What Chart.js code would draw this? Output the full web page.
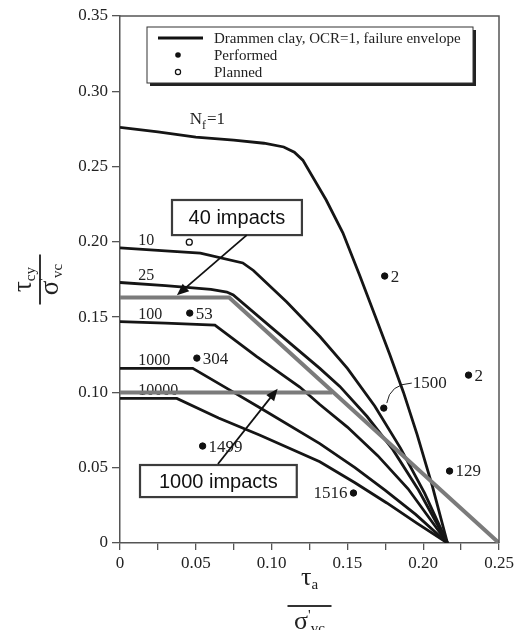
<!DOCTYPE html>
<html>
<head>
<meta charset="utf-8">
<script src="https://cdn.jsdelivr.net/npm/chart.js@4.4.0/dist/chart.umd.min.js"></script>
<style>
  html, body { margin: 0; padding: 0; background: #fff; }
  #wrap { width: 521px; height: 630px; }
</style>
</head>
<body>
<div id="wrap"><canvas id="contourChart" width="521" height="630"></canvas></div>
<script>
// Failure contours (tau_a / sigma'vc vs tau_cy / sigma'vc), Drammen clay OCR=1
const nf1Ta = [0, 0.025, 0.05, 0.075, 0.095, 0.108, 0.115, 0.1206, 0.136, 0.147, 0.158, 0.169, 0.178, 0.187, 0.196, 0.206, 0.216];
const nf1Tcy = [0.276, 0.273, 0.2695, 0.2675, 0.2655, 0.263, 0.2595, 0.2543, 0.2278, 0.206, 0.178, 0.149, 0.125, 0.1, 0.072, 0.038, 0];

const nf10Ta = [0, 0.03, 0.053, 0.081, 0.088, 0.11, 0.132, 0.15, 0.168, 0.185, 0.201, 0.216];
const nf10Tcy = [0.196, 0.194, 0.1925, 0.186, 0.181, 0.16, 0.137, 0.116, 0.091, 0.063, 0.033, 0];

const nf25Ta = [0, 0.03, 0.06, 0.0705, 0.0747, 0.1, 0.1318, 0.145, 0.163, 0.18, 0.197, 0.216];
const nf25Tcy = [0.173, 0.171, 0.1685, 0.1667, 0.1647, 0.143, 0.116, 0.104, 0.084, 0.062, 0.035, 0];

const nf100Ta = [0, 0.03, 0.0626, 0.09, 0.1186, 0.1318, 0.15, 0.17, 0.19, 0.216];
const nf100Tcy = [0.147, 0.146, 0.1447, 0.124, 0.1036, 0.092, 0.077, 0.058, 0.036, 0];

const nf1000Ta = [0, 0.048, 0.07, 0.092, 0.1318, 0.155, 0.175, 0.195, 0.216];
const nf1000Tcy = [0.116, 0.116, 0.103, 0.09, 0.066, 0.05, 0.035, 0.019, 0];

const nf10000Ta = [0, 0.0375, 0.065, 0.092, 0.1318, 0.155, 0.176, 0.196, 0.216];
const nf10000Tcy = [0.096, 0.096, 0.083, 0.0717, 0.054, 0.04, 0.0266, 0.013, 0];

// design lines for impact loading
const imp40Ta = [0, 0.072, 0.25];
const imp40Tcy = [0.163, 0.163, 0];
const imp1000Ta = [0, 0.14];
const imp1000Tcy = [0.1, 0.1];

// tests
const performedTa = [0.046, 0.0507, 0.0545, 0.1746, 0.2299, 0.2174, 0.154, 0.174];
const performedTcy = [0.1527, 0.1228, 0.0644, 0.1773, 0.1115, 0.0478, 0.0332, 0.0896];
const performedTags = ["53", "304", "1499", "2", "2", "129", "1516", "1500"];
const plannedTa = [0.0457];
const plannedTcy = [0.1998];

const curveLabels = ["10", "25", "100", "1000", "10000"];
const curveLabelTcy = [0.198, 0.175, 0.149, 0.118, 0.098];

const yTicks = [0, 0.05, 0.1, 0.15, 0.2, 0.25, 0.3, 0.35];

const SERIF = '"Liberation Serif", "Times New Roman", serif';
const SANS = '"Liberation Sans", Arial, sans-serif';

const pts = (xs, ys) => xs.map((v, i) => ({ x: v, y: ys[i] }));

const curveStyle = {
  showLine: true,
  borderColor: "#151515",
  borderWidth: 2.8,
  pointRadius: 0,
  tension: 0,
};
const grayStyle = {
  showLine: true,
  borderColor: "#7b7b7b",
  borderWidth: 4,
  pointRadius: 0,
  tension: 0,
};

const drawArrow = (ctx, x0, y0, x1, y1) => {
  const a = Math.atan2(y1 - y0, x1 - x0);
  ctx.strokeStyle = "#111";
  ctx.fillStyle = "#111";
  ctx.lineWidth = 1.8;
  ctx.beginPath();
  ctx.moveTo(x0, y0);
  ctx.lineTo(x1 - 8 * Math.cos(a), y1 - 8 * Math.sin(a));
  ctx.stroke();
  ctx.beginPath();
  ctx.moveTo(x1, y1);
  ctx.lineTo(x1 - 12 * Math.cos(a) + 5 * Math.sin(a), y1 - 12 * Math.sin(a) - 5 * Math.cos(a));
  ctx.lineTo(x1 - 12 * Math.cos(a) - 5 * Math.sin(a), y1 - 12 * Math.sin(a) + 5 * Math.cos(a));
  ctx.closePath();
  ctx.fill();
};

const drawBox = (ctx, text, x0, y0, x1, y1) => {
  ctx.fillStyle = "#fff";
  ctx.fillRect(x0, y0, x1 - x0, y1 - y0);
  ctx.strokeStyle = "#3c3c3c";
  ctx.lineWidth = 2.2;
  ctx.strokeRect(x0, y0, x1 - x0, y1 - y0);
  ctx.fillStyle = "#111";
  ctx.font = "20px " + SANS;
  ctx.textAlign = "center";
  ctx.textBaseline = "middle";
  ctx.fillText(text, (x0 + x1) / 2, (y0 + y1) / 2 + 1);
};

// rich text run: [{t, size, dy}]
const drawRun = (ctx, parts, cx, baseY) => {
  ctx.textAlign = "left";
  ctx.textBaseline = "alphabetic";
  let w = 0;
  parts.forEach((p) => {
    ctx.font = p.size + "px " + SERIF;
    w += ctx.measureText(p.t).width;
  });
  let x = cx - w / 2;
  parts.forEach((p) => {
    ctx.font = p.size + "px " + SERIF;
    ctx.fillText(p.t, x, baseY + (p.dy || 0));
    x += ctx.measureText(p.t).width;
  });
};

const drawFraction = (ctx, cx, cy, half, num, den, numBase, denBase) => {
  ctx.strokeStyle = "#333";
  ctx.lineWidth = 2;
  ctx.beginPath();
  ctx.moveTo(cx - half, cy);
  ctx.lineTo(cx + half, cy);
  ctx.stroke();
  ctx.fillStyle = "#222";
  drawRun(ctx, num, cx, cy + numBase);
  drawRun(ctx, den, cx, cy + denBase);
};

const textPlugin = {
  id: "textPlugin",
  beforeDatasetsDraw(chart) {
    const { ctx, scales: { x, y } } = chart;
    ctx.save();
    ctx.fillStyle = "#222";
    ctx.textBaseline = "alphabetic";
    ctx.textAlign = "left";

    // contour labels
    ctx.font = "16px " + SERIF;
    curveLabels.forEach((t, i) => {
      ctx.fillText(t, x.getPixelForValue(0.012), y.getPixelForValue(curveLabelTcy[i]));
    });
    const nx = x.getPixelForValue(0.046), ny = y.getPixelForValue(0.278);
    ctx.font = "17px " + SERIF;
    ctx.fillText("N", nx, ny);
    let w = ctx.measureText("N").width;
    ctx.font = "12px " + SERIF;
    ctx.fillText("f", nx + w, ny + 5);
    w += ctx.measureText("f").width + 1;
    ctx.font = "17px " + SERIF;
    ctx.fillText("=1", nx + w, ny);

    // test numbers
    ctx.font = "17px " + SERIF;
    ctx.textBaseline = "middle";
    performedTags.forEach((t, i) => {
      const px = x.getPixelForValue(performedTa[i]);
      const py = y.getPixelForValue(performedTcy[i]);
      if (t === "1516") {
        ctx.textAlign = "right";
        ctx.fillText(t, px - 6, py + 1);
      } else if (t === "1500") {
        ctx.textAlign = "left";
        ctx.fillText(t, px + 29, py - 25);
        ctx.strokeStyle = "#222";
        ctx.lineWidth = 1;
        ctx.beginPath();
        ctx.moveTo(px + 3, py - 5);
        ctx.quadraticCurveTo(px + 6, py - 24, px + 28, py - 25);
        ctx.stroke();
      } else {
        ctx.textAlign = "left";
        ctx.fillText(t, px + 6, py + 1);
      }
    });
    ctx.restore();
  },
  afterDatasetsDraw(chart) {
    const { ctx, chartArea: ca, scales: { x, y } } = chart;
    const px = (v) => x.getPixelForValue(v);
    const py = (v) => y.getPixelForValue(v);
    ctx.save();

    // frame top and right
    ctx.strokeStyle = "#555";
    ctx.lineWidth = 1.5;
    ctx.beginPath();
    ctx.moveTo(ca.left, ca.top);
    ctx.lineTo(ca.right, ca.top);
    ctx.lineTo(ca.right, ca.bottom);
    ctx.stroke();

    // legend
    const lx = ca.left + 27, ly = ca.top + 11, lw = 326, lh = 56;
    ctx.fillStyle = "#222";
    ctx.fillRect(lx + 3, ly + 3, lw, lh);
    ctx.fillStyle = "#fff";
    ctx.fillRect(lx, ly, lw, lh);
    ctx.strokeStyle = "#333";
    ctx.lineWidth = 1;
    ctx.strokeRect(lx, ly, lw, lh);
    ctx.strokeStyle = "#111";
    ctx.lineWidth = 2.8;
    ctx.beginPath();
    ctx.moveTo(lx + 11, ly + 11);
    ctx.lineTo(lx + 56, ly + 11);
    ctx.stroke();
    ctx.fillStyle = "#111";
    ctx.beginPath();
    ctx.arc(lx + 31, ly + 28, 2.8, 0, Math.PI * 2);
    ctx.fill();
    ctx.lineWidth = 1.2;
    ctx.beginPath();
    ctx.arc(lx + 31, ly + 45, 2.6, 0, Math.PI * 2);
    ctx.stroke();
    ctx.fillStyle = "#222";
    ctx.font = "15px " + SERIF;
    ctx.textAlign = "left";
    ctx.textBaseline = "alphabetic";
    ctx.fillText("Drammen clay, OCR=1, failure envelope", lx + 67, ly + 16);
    ctx.fillText("Performed", lx + 67, ly + 33);
    ctx.fillText("Planned", lx + 67, ly + 50);

    // impact annotations
    drawBox(ctx, "40 impacts", px(0.0343), py(0.2278), px(0.12), py(0.2045));
    drawArrow(ctx, px(0.0836), py(0.2045), px(0.0375), py(0.1645));
    drawBox(ctx, "1000 impacts", px(0.0132), py(0.0518), px(0.1166), py(0.0305));
    drawArrow(ctx, px(0.0646), py(0.0525), px(0.104), py(0.1025));

    // axis titles
    const xc = (ca.left + ca.right) / 2;
    drawFraction(ctx, xc, ca.bottom + 63, 22,
      [{ t: "\u03c4", size: 26 }, { t: "a", size: 15, dy: 4 }],
      [{ t: "\u03c3", size: 26 }, { t: "'", size: 15, dy: -9 }, { t: "vc", size: 15, dy: 4 }],
      -21, 23);
    ctx.translate(40, (ca.top + ca.bottom) / 2);
    ctx.rotate(-Math.PI / 2);
    drawFraction(ctx, 0, 0, 25,
      [{ t: "\u03c4", size: 27 }, { t: "cy", size: 15, dy: 4 }],
      [{ t: "\u03c3", size: 27 }, { t: "'", size: 15, dy: -9 }, { t: "vc", size: 15, dy: 4 }],
      -9, 18);
    ctx.restore();
  },
};

const chart = new Chart(document.getElementById("contourChart").getContext("2d"), {
  type: "scatter",
  data: {
    datasets: [
      {
        label: "Performed",
        data: pts(performedTa, performedTcy),
        pointRadius: 3.2,
        backgroundColor: "#111",
        borderColor: "#111",
      },
      {
        label: "Planned",
        data: pts(plannedTa, plannedTcy),
        pointRadius: 3,
        backgroundColor: "#fff",
        borderColor: "#111",
        borderWidth: 1.3,
      },
      { label: "40 impacts", data: pts(imp40Ta, imp40Tcy), ...grayStyle },
      { label: "1000 impacts", data: pts(imp1000Ta, imp1000Tcy), ...grayStyle },
      { label: "Nf=1", data: pts(nf1Ta, nf1Tcy), ...curveStyle },
      { label: "Nf=10", data: pts(nf10Ta, nf10Tcy), ...curveStyle },
      { label: "Nf=25", data: pts(nf25Ta, nf25Tcy), ...curveStyle },
      { label: "Nf=100", data: pts(nf100Ta, nf100Tcy), ...curveStyle },
      { label: "Nf=1000", data: pts(nf1000Ta, nf1000Tcy), ...curveStyle },
      { label: "Nf=10000", data: pts(nf10000Ta, nf10000Tcy), ...curveStyle },
    ],
  },
  options: {
    responsive: false,
    animation: false,
    layout: { padding: { left: 0, right: 22, top: 16, bottom: 0 } },
    plugins: {
      legend: { display: false },
      tooltip: { enabled: false },
    },
    scales: {
      x: {
        type: "linear",
        min: 0,
        max: 0.25,
        afterFit: (scale) => {
          scale.height = 87;
        },
        border: { display: true, color: "#555", width: 1.5 },
        grid: { drawOnChartArea: false, drawTicks: true, tickLength: 7, color: "#555", lineWidth: 1.3 },
        ticks: {
          stepSize: 0.025,
          autoSkip: false,
          maxRotation: 0,
          padding: 3,
          color: "#222",
          font: { family: SERIF, size: 17 },
          callback: (v) => {
            const k = Math.round(v / 0.025);
            if (k % 2) return "";
            return k === 0 ? "0" : (k * 0.025).toFixed(2);
          },
        },
      },
      y: {
        type: "linear",
        min: 0,
        max: 0.35,
        afterFit: (scale) => {
          scale.width = 120;
        },
        afterBuildTicks: (scale) => {
          scale.ticks = yTicks.map((v) => ({ value: v }));
        },
        border: { display: true, color: "#555", width: 1.5 },
        grid: { drawOnChartArea: false, drawTicks: true, tickLength: 8, color: "#555", lineWidth: 1.3 },
        ticks: {
          padding: 4,
          color: "#222",
          font: { family: SERIF, size: 17 },
          callback: (v) => (Math.abs(v) < 1e-9 ? "0" : v.toFixed(2)),
        },
      },
    },
  },
  plugins: [textPlugin],
});
</script>
</body>
</html>
